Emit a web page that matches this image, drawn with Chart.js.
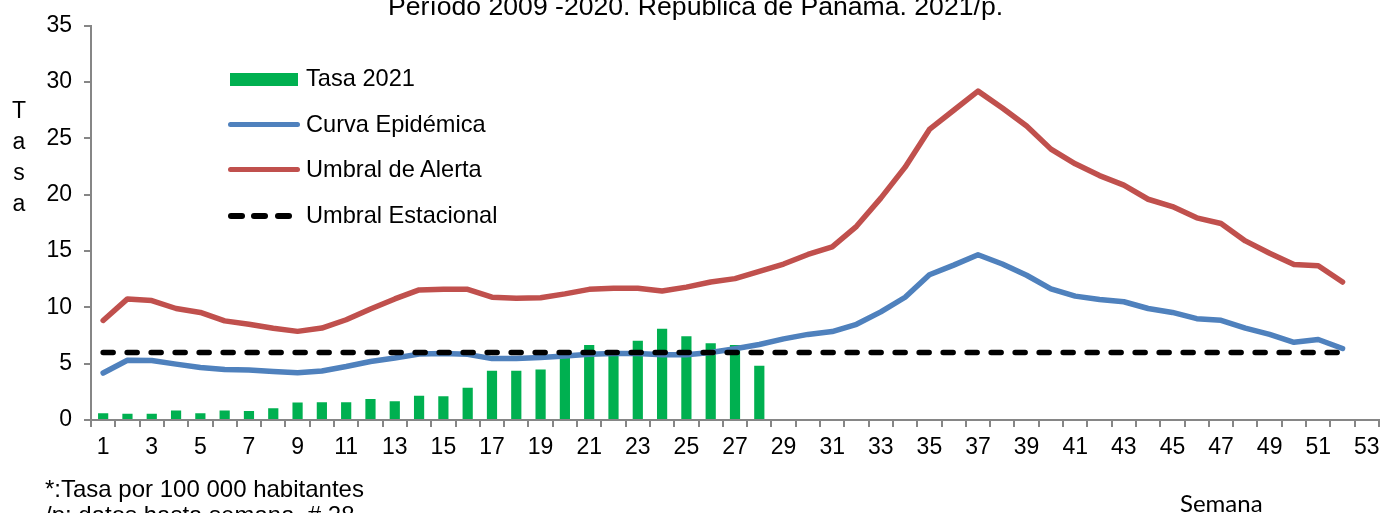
<!DOCTYPE html>
<html>
<head>
<meta charset="utf-8">
<script src="https://cdn.jsdelivr.net/npm/chart.js@4"></script>
<style>
  html, body { margin: 0; padding: 0; background: #fff; overflow: hidden; }
  #wrap { position: relative; width: 1399px; height: 513px; overflow: hidden; }
  #wrap canvas { position: absolute; left: 0; top: 0; }
  .txt { position: absolute; font-family: "Liberation Sans", Arial, sans-serif; color: #000; white-space: nowrap; }
  .sw { position: absolute; }
</style>
</head>
<body>
<div id="wrap">
  <canvas id="chart" width="1399" height="513"></canvas>

  <div class="txt" style="left:388px; top:-7px; font-size:26.6px; line-height:26px;">Período 2009 -2020. República de Panamá. 2021/p.</div>

  <!-- y title, one letter per line -->
  <div class="txt" style="left:7px; top:95px; width:24px; text-align:center; font-size:23px; line-height:31px; white-space:normal;">T<br>a<br>s<br>a</div>

  <!-- legend -->
  <div class="sw" style="left:230px; top:73px; width:68px; height:13px; background:#00B050;"></div>
  <div class="txt" style="left:306px; top:67px; font-size:23.6px; line-height:23px;">Tasa 2021</div>
  <div class="sw" style="left:228px; top:122px; width:72px; height:5px; border-radius:3px; background:#4F81BD;"></div>
  <div class="txt" style="left:306px; top:113px; font-size:23.6px; line-height:23px;">Curva Epidémica</div>
  <div class="sw" style="left:228px; top:167px; width:72px; height:5px; border-radius:3px; background:#C0504D;"></div>
  <div class="txt" style="left:306px; top:158px; font-size:23.6px; line-height:23px;">Umbral de Alerta</div>
  <div class="sw" style="left:228px; top:213px; width:17px; height:6px; border-radius:3px; background:#000;"></div>
  <div class="sw" style="left:251px; top:213px; width:17px; height:6px; border-radius:3px; background:#000;"></div>
  <div class="sw" style="left:275px; top:213px; width:17px; height:6px; border-radius:3px; background:#000;"></div>
  <div class="txt" style="left:306px; top:204px; font-size:23.6px; line-height:23px;">Umbral Estacional</div>

  <!-- notes -->
  <div class="txt" style="left:45px; top:476px; font-size:24px; line-height:26px;">*:Tasa por 100 000 habitantes<br>/p: datos hasta semana&nbsp; # 28</div>
  <div class="txt" style="left:1180px; top:491px; font-family:Lato, 'Open Sans', sans-serif; font-size:24px; line-height:23px;">Semana</div>
</div>

<script>
// weeks on the x axis
const semanas = ['1','2','3','4','5','6','7','8','9','10','11','12','13','14','15','16','17','18','19','20',
  '21','22','23','24','25','26','27','28','29','30','31','32','33','34','35','36','37','38','39','40',
  '41','42','43','44','45','46','47','48','49','50','51','52','53'];

// Tasa 2021 (weeks 1-28)
const tasa2021 = [0.6, 0.55, 0.55, 0.85, 0.6, 0.85, 0.8, 1.05, 1.55, 1.58, 1.58, 1.87, 1.67, 2.16,
  2.1, 2.86, 4.37, 4.37, 4.49, 5.8, 6.65, 6.0, 7.03, 8.1, 7.44, 6.82, 6.65, 4.81];

// Curva epidemica (weeks 1-52)
const curvaEpidemica = [4.17, 5.3, 5.28, 4.96, 4.67, 4.49, 4.43, 4.3, 4.2, 4.35, 4.75, 5.2, 5.5, 5.85,
  5.9, 5.83, 5.45, 5.45, 5.55, 5.68, 5.83, 5.9, 5.9, 5.8, 5.8, 6.0, 6.33, 6.7, 7.2, 7.6,
  7.85, 8.5, 9.6, 10.9, 12.9, 13.75, 14.67, 13.85, 12.85, 11.65, 11.0, 10.7, 10.5, 9.9, 9.55,
  9.0, 8.85, 8.15, 7.6, 6.9, 7.15, 6.35];

// Umbral de alerta (weeks 1-52)
const umbralAlerta = [8.84, 10.75, 10.6, 9.9, 9.55, 8.8, 8.5, 8.15, 7.87, 8.16, 8.9, 9.86, 10.75, 11.55,
  11.6, 11.6, 10.9, 10.8, 10.85, 11.2, 11.6, 11.7, 11.7, 11.45, 11.8, 12.25, 12.55, 13.2, 13.85, 14.7,
  15.37, 17.2, 19.7, 22.45, 25.8, 27.5, 29.2, 27.7, 26.1, 24.05, 22.75, 21.7, 20.85, 19.6, 18.95,
  17.95, 17.45, 15.9, 14.8, 13.8, 13.7, 12.25];

// Umbral estacional (weeks 1-52)
const umbralEstacional = [6, 6, 6, 6, 6, 6, 6, 6, 6, 6, 6, 6, 6, 6, 6, 6, 6, 6, 6, 6, 6, 6, 6, 6, 6, 6,
  6, 6, 6, 6, 6, 6, 6, 6, 6, 6, 6, 6, 6, 6, 6, 6, 6, 6, 6, 6, 6, 6, 6, 6, 6, 6];

const axisGray = '#868686';
Chart.defaults.font.family = '"Liberation Sans", Arial, sans-serif';
Chart.defaults.color = '#000';

new Chart(document.getElementById('chart'), {
  data: {
    labels: semanas,
    datasets: [
      {
        type: 'line', label: 'Umbral Estacional', data: umbralEstacional, order: 1,
        borderColor: '#000', borderWidth: 5.5, borderDash: [10, 14], borderCapStyle: 'round',
        pointRadius: 0, tension: 0, fill: false
      },
      {
        type: 'line', label: 'Curva Epidémica', data: curvaEpidemica, order: 2,
        borderColor: '#4F81BD', borderWidth: 5.5, borderJoinStyle: 'round', borderCapStyle: 'round',
        pointRadius: 0, tension: 0, fill: false
      },
      {
        type: 'line', label: 'Umbral de Alerta', data: umbralAlerta, order: 3,
        borderColor: '#C0504D', borderWidth: 5.5, borderJoinStyle: 'round', borderCapStyle: 'round',
        pointRadius: 0, tension: 0, fill: false
      },
      {
        type: 'bar', label: 'Tasa 2021', data: tasa2021, order: 4,
        backgroundColor: '#00B050', barPercentage: 0.42, categoryPercentage: 1
      }
    ]
  },
  options: {
    responsive: false,
    animation: false,
    layout: { padding: { top: 20, right: 20, left: 0, bottom: 0 } },
    plugins: { legend: { display: false }, tooltip: { enabled: false } },
    scales: {
      x: {
        type: 'category',
        offset: true,
        grid: { offset: true, drawOnChartArea: false, drawTicks: true, tickLength: 7, color: axisGray, lineWidth: 2 },
        border: { color: axisGray, width: 2 },
        ticks: {
          autoSkip: false, maxRotation: 0, minRotation: 0, padding: 7,
          font: { size: 23 },
          callback: (v, i) => (i % 2 === 0 ? semanas[i] : '')
        },
        afterFit: s => { s.height = 93; }
      },
      y: {
        min: 0, max: 35,
        grid: { drawOnChartArea: false, drawTicks: true, tickLength: 7, color: axisGray, lineWidth: 2 },
        border: { color: axisGray, width: 2 },
        ticks: { stepSize: 5, padding: 12, font: { size: 23 } },
        afterFit: s => { s.width = 91; }
      }
    }
  }
});
</script>
</body>
</html>
